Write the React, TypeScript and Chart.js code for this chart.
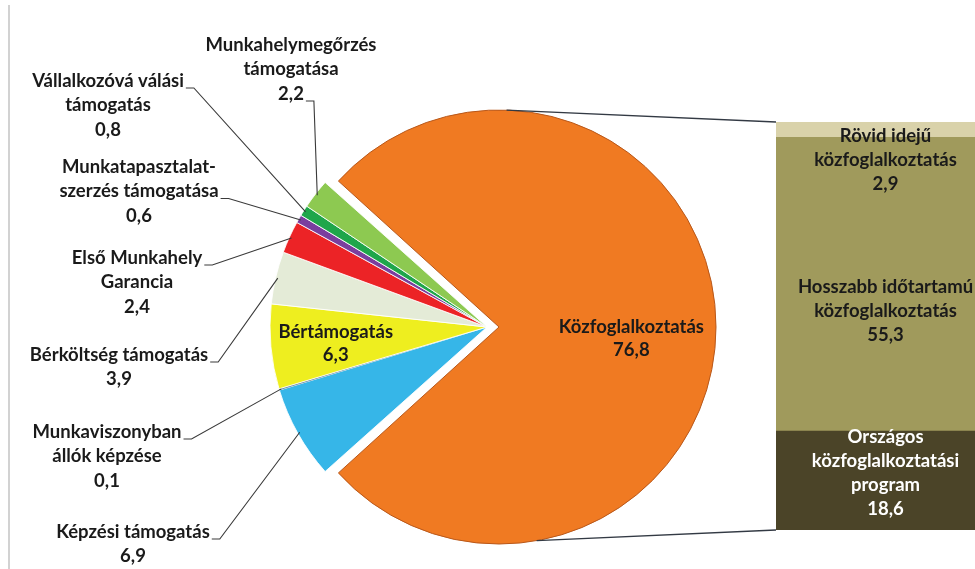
import React, { useEffect, useRef } from 'react';
import { Chart, registerables } from 'chart.js';

Chart.register(...registerables);

// ---- data ----
const pieCategories = [
  'Közfoglalkoztatás',
  'Képzési támogatás',
  'Munkaviszonyban\nállók képzése',
  'Bértámogatás',
  'Bérköltség támogatás',
  'Első Munkahely\nGarancia',
  'Munkatapasztalat-\nszerzés támogatása',
  'Vállalkozóvá válási\ntámogatás',
  'Munkahelymegőrzés\ntámogatása',
];
const pieValues = [76.8, 6.9, 0.1, 6.3, 3.9, 2.4, 0.6, 0.8, 2.2];
const pieColors = ['#F07A22', '#36B6E8', '#6f8fa8', '#EEEE1F', '#E4EBD7', '#EC2326', '#7A3E9E', '#1FA64B', '#8DC951'];

const barCategories = [
  'Országos\nközfoglalkoztatási\nprogram',
  'Hosszabb időtartamú\nközfoglalkoztatás',
  'Rövid idejű\nközfoglalkoztatás',
];
const barValues = [18.6, 55.3, 2.9];
const barColors = ['#4B4428', '#A09A5C', '#D9D2AA'];
const barTextColors = ['#ffffff', '#1a1a1a', '#1a1a1a'];

// ---- layout / style constants ----
const FONT = 'Lato, "Open Sans", sans-serif';
const FS = 18.5;
const LH = 24.5;
const PIE_RADIUS = 217;
const EXPLODE = 12;
// outside label placement: center x, first-line y, line index where the leader starts
const outsideLayout: ({ cx: number; y: number; anchor: number } | null)[] = [
  null,
  { cx: 133, y: 532, anchor: 0 },
  { cx: 107, y: 432, anchor: 0 },
  null,
  { cx: 119, y: 355, anchor: 0 },
  { cx: 137, y: 258, anchor: 0 },
  { cx: 139, y: 167, anchor: 1 },
  { cx: 108, y: 81, anchor: 0 },
  { cx: 291, y: 45, anchor: 2 },
];
const insideFrac = [0.61, 0, 0, 0.7, 0, 0, 0, 0, 0];
const insideDy = [12, 0, 0, 3, 0, 0, 0, 0, 0];
const barLabelDy = [-8, 27, 30];
const connectorAngles = [-88, 80];

const fmt = (v: number) => v.toFixed(1).replace('.', ',');

export default function App() {
  const pieRef = useRef<HTMLCanvasElement | null>(null);
  const barRef = useRef<HTMLCanvasElement | null>(null);

  useEffect(() => {
    const total = pieValues.reduce((a, b) => a + b, 0);
    const mainDeg = (pieValues[0] / total) * 360;

    const piePlugin = {
      id: 'pieDecor',
      afterDatasetUpdate(chart: any) {
        const arc = chart.getDatasetMeta(0).data[0];
        if (arc) arc.outerRadius = PIE_RADIUS - EXPLODE;
      },
      beforeDraw(chart: any) {
        const ctx = chart.ctx;
        ctx.save();
        ctx.fillStyle = '#ffffff';
        ctx.fillRect(0, 0, chart.width, chart.height);
        ctx.strokeStyle = '#d2d2d2';
        ctx.lineWidth = 2;
        ctx.beginPath();
        ctx.moveTo(9, 5);
        ctx.lineTo(9, chart.height);
        ctx.stroke();
        ctx.restore();
      },
      afterDraw(chart: any) {
        const meta = chart.getDatasetMeta(0);
        const ctx = chart.ctx;
        ctx.save();
        ctx.font = `bold ${FS}px ${FONT}`;
        ctx.textAlign = 'center';
        ctx.textBaseline = 'middle';
        ctx.fillStyle = '#1a1a1a';
        ctx.strokeStyle = '#3a3a3a';
        ctx.lineWidth = 1.1;
        meta.data.forEach((arc: any, i: number) => {
          const mid = (arc.startAngle + arc.endAngle) / 2;
          const off = i === 0 ? EXPLODE : 0;
          const ox = arc.x + Math.cos(mid) * off;
          const oy = arc.y + Math.sin(mid) * off;
          const lines = pieCategories[i].split('\n').concat(fmt(pieValues[i]));
          const lay = outsideLayout[i];
          if (!lay) {
            const f = insideFrac[i];
            const cx = ox + Math.cos(mid) * PIE_RADIUS * f;
            const cy = oy + Math.sin(mid) * PIE_RADIUS * f + insideDy[i];
            lines.forEach((t, k) => ctx.fillText(t, cx, cy + (k - (lines.length - 1) / 2) * 23));
            return;
          }
          lines.forEach((t, k) => ctx.fillText(t, lay.cx, lay.y + k * LH));
          const w = ctx.measureText(lines[lay.anchor]).width;
          const ax = lay.cx + w / 2 + 2;
          const ay = lay.y + lay.anchor * LH + 7;
          const ex = ox + Math.cos(mid) * PIE_RADIUS * 0.99;
          const ey = oy + Math.sin(mid) * PIE_RADIUS * 0.99;
          ctx.beginPath();
          ctx.moveTo(ax, ay);
          ctx.lineTo(ax + 8, ay);
          ctx.lineTo(ex, ey);
          ctx.stroke();
        });
        ctx.restore();
      },
    };

    const pie = new Chart(pieRef.current as HTMLCanvasElement, {
      type: 'pie',
      data: {
        labels: pieCategories,
        datasets: [
          {
            data: pieValues,
            backgroundColor: pieColors,
            borderColor: pieColors.map((c, i) => (i === 0 ? '#b9581a' : 'rgba(255,255,255,0.85)')),
            borderWidth: pieColors.map((c, i) => (i === 0 ? 1 : i === 2 ? 0 : 1)),
            offset: pieColors.map((c, i) => (i === 0 ? EXPLODE * 4 : 0)),
            hoverOffset: 0,
          },
        ],
      },
      options: {
        responsive: false,
        animation: false,
        rotation: 90 - mainDeg / 2,
        radius: PIE_RADIUS,
        layout: { padding: { left: 0, right: 1, top: 85, bottom: 0 } },
        plugins: { legend: { display: false }, tooltip: { enabled: false } },
        events: [],
      } as any,
      plugins: [piePlugin],
    });

    const barPlugin = {
      id: 'barDecor',
      beforeDatasetsDraw(chart: any) {
        const ctx = chart.ctx;
        const orange = pie.getDatasetMeta(0).data[0] as any;
        if (!orange) return;
        const mid = (orange.startAngle + orange.endAngle) / 2;
        const ox = orange.x + Math.cos(mid) * EXPLODE;
        const oy = orange.y + Math.sin(mid) * EXPLODE;
        const first = chart.getDatasetMeta(0).data[0] as any;
        const last = chart.getDatasetMeta(barValues.length - 1).data[0] as any;
        const left = first.x - first.width / 2;
        const top = last.y;
        const bottom = first.base;
        ctx.save();
        ctx.strokeStyle = '#333a44';
        ctx.lineWidth = 1.3;
        const pts = connectorAngles.map((a) => {
          const r = (a * Math.PI) / 180;
          return [ox + Math.cos(r) * PIE_RADIUS, oy + Math.sin(r) * PIE_RADIUS];
        });
        ctx.beginPath();
        ctx.moveTo(pts[0][0], pts[0][1]);
        ctx.lineTo(left, top);
        ctx.moveTo(pts[1][0], pts[1][1]);
        ctx.lineTo(left, bottom);
        ctx.stroke();
        ctx.restore();
      },
      afterDraw(chart: any) {
        const ctx = chart.ctx;
        ctx.save();
        ctx.font = `bold ${FS}px ${FONT}`;
        ctx.textAlign = 'center';
        ctx.textBaseline = 'middle';
        barValues.forEach((v, i) => {
          const el = chart.getDatasetMeta(i).data[0] as any;
          const lines = barCategories[i].split('\n').concat(fmt(v));
          const cy = (el.y + el.base) / 2 + barLabelDy[i];
          ctx.fillStyle = barTextColors[i];
          lines.forEach((t, k) => ctx.fillText(t, el.x, cy + (k - (lines.length - 1) / 2) * 24));
        });
        ctx.restore();
      },
    };

    const bar = new Chart(barRef.current as HTMLCanvasElement, {
      type: 'bar',
      data: {
        labels: ['Közfoglalkoztatás'],
        datasets: barValues.map((v, i) => ({
          label: barCategories[i],
          data: [v],
          backgroundColor: barColors[i],
          borderWidth: 0,
          categoryPercentage: 1,
          barPercentage: 1,
        })),
      },
      options: {
        responsive: false,
        animation: false,
        layout: { padding: { left: 776, right: 0, top: 122, bottom: 39 } },
        scales: {
          x: { display: false, stacked: true },
          y: { display: false, stacked: true, min: 0, max: barValues.reduce((a, b) => a + b, 0) },
        },
        plugins: { legend: { display: false }, tooltip: { enabled: false } },
        events: [],
      } as any,
      plugins: [barPlugin],
    });

    return () => {
      bar.destroy();
      pie.destroy();
    };
  }, []);

  return (
    <div style={{ position: 'absolute', left: 0, top: 0, width: 975, height: 569, overflow: 'hidden', background: '#fff' }}>
      <canvas ref={pieRef} width={975} height={569} style={{ position: 'absolute', left: 0, top: 0, width: 975, height: 569 }} />
      <canvas ref={barRef} width={995} height={569} style={{ position: 'absolute', left: 0, top: 0, width: 995, height: 569 }} />
    </div>
  );
}
